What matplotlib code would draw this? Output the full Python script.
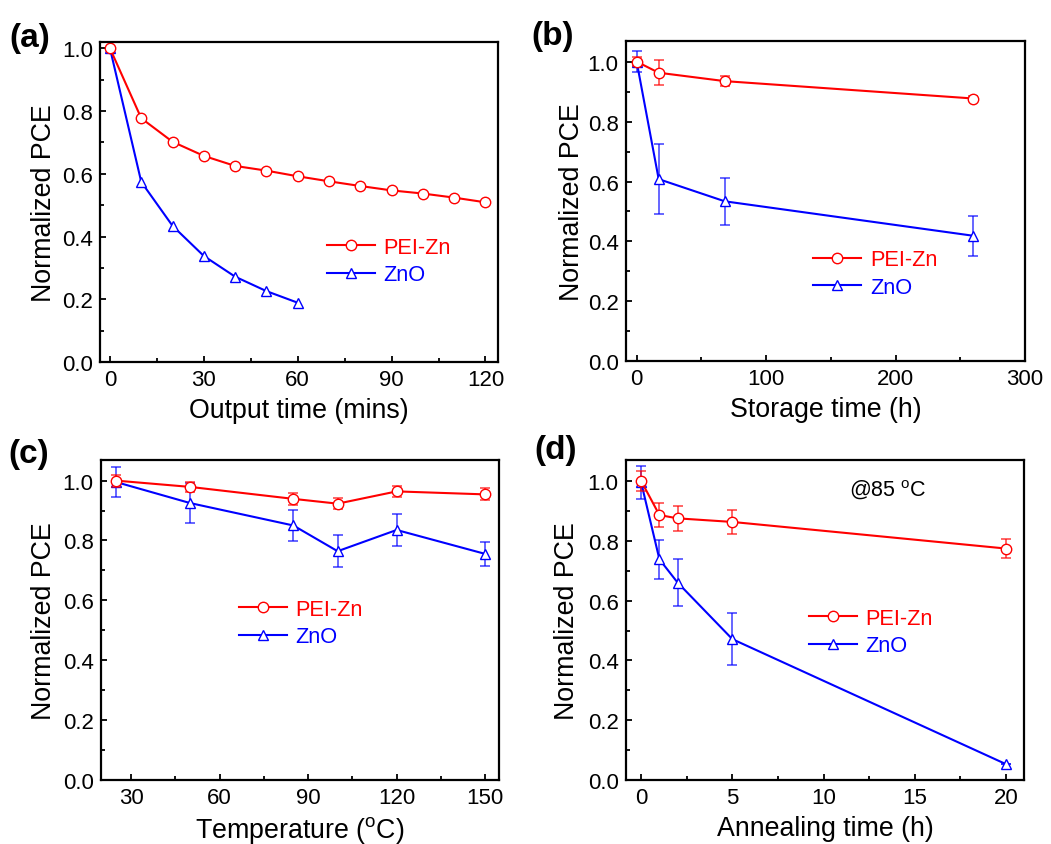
import matplotlib.pyplot as plt
import numpy as np
from matplotlib.ticker import MultipleLocator

plt.rcParams['font.family'] = ['Liberation Sans', 'DejaVu Sans']
plt.rcParams['mathtext.default'] = 'regular'

# (a) output time
t_out = [0, 10, 20, 30, 40, 50, 60, 70, 80, 90, 100, 110, 120]
pei_out = [1.0, 0.777, 0.702, 0.657, 0.625, 0.610, 0.592, 0.576, 0.561, 0.547, 0.537, 0.524, 0.509]
t_out_zno = [0, 10, 20, 30, 40, 50, 60]
zno_out = [1.0, 0.574, 0.434, 0.338, 0.272, 0.226, 0.189]

# (b) storage time
t_sto = [0, 17, 68, 260]
pei_sto = [1.0, 0.963, 0.935, 0.877]
pei_sto_err = [0.015, 0.042, 0.017, 0.008]
zno_sto = [1.0, 0.608, 0.534, 0.419]
zno_sto_err = [0.035, 0.117, 0.078, 0.067]

# (c) temperature
temp = [25, 50, 85, 100, 120, 150]
pei_temp = [1.0, 0.979, 0.939, 0.923, 0.964, 0.954]
pei_temp_err = [0.02, 0.018, 0.02, 0.018, 0.019, 0.02]
zno_temp = [0.995, 0.925, 0.850, 0.764, 0.835, 0.755]
zno_temp_err = [0.05, 0.068, 0.051, 0.053, 0.053, 0.04]

# (d) annealing time
t_ann = [0, 1, 2, 5, 20]
pei_ann = [1.0, 0.886, 0.875, 0.863, 0.774]
pei_ann_err = [0.032, 0.041, 0.042, 0.041, 0.031]
zno_ann = [0.995, 0.738, 0.660, 0.471, 0.053]
zno_ann_err = [0.055, 0.065, 0.079, 0.086, 0.0]

RED = '#FF0000'
BLUE = '#0000FF'
lw = 1.5
ms = 7.5

fig = plt.figure(figsize=(10.51, 8.45), dpi=100)
pos = {
    'a': [0.0951, 0.5704, 0.3787, 0.3787],
    'b': [0.5953, 0.5712, 0.3800, 0.3795],
    'c': [0.0958, 0.0761, 0.3793, 0.3787],
    'd': [0.5953, 0.0757, 0.3793, 0.3787],
}


def style(ax, xlim, ylim, xmaj, xmin, xlabel, lab_x):
    ax.set_xlim(*xlim)
    ax.set_ylim(*ylim)
    ax.xaxis.set_major_locator(MultipleLocator(xmaj))
    ax.xaxis.set_minor_locator(MultipleLocator(xmin))
    ax.yaxis.set_major_locator(MultipleLocator(0.2))
    ax.yaxis.set_minor_locator(MultipleLocator(0.1))
    ax.yaxis.set_major_formatter(plt.FormatStrFormatter('%.1f'))
    ax.tick_params(which='both', direction='in', labelsize=16, width=1.3, pad=5)
    ax.tick_params(which='major', length=4.5)
    ax.tick_params(which='minor', length=3)
    for s in ax.spines.values():
        s.set_linewidth(1.6)
    ax.set_xlabel(xlabel, fontsize=19.3)
    ax.set_ylabel('Normalized PCE', fontsize=19.3)
    ax.xaxis.set_label_coords(0.5, -0.108)
    ax.yaxis.set_label_coords(lab_x, 0.5)


def add_legend(ax, xy):
    h, l = ax.get_legend_handles_labels()
    ax.legend(h[::-1], l[::-1], loc='center left', bbox_to_anchor=xy,
              frameon=False, fontsize=15.7, handlelength=2.2, handletextpad=0.4,
              labelspacing=0.3, borderpad=0, borderaxespad=0,
              labelcolor='linecolor')


def series(ax, x, y, err, color, marker, label):
    if err is not None:
        ax.errorbar(x, y, yerr=err, fmt='none', ecolor=color, alpha=0.7,
                    elinewidth=1.2, capsize=3.5, capthick=1.2)
    ax.plot(x, y, color=color, marker=marker, ms=ms, mfc='white',
            mec=color, lw=lw, label=label)


# (a)
ax = fig.add_axes(pos['a'])
series(ax, t_out_zno, zno_out, None, BLUE, '^', 'ZnO')
series(ax, t_out, pei_out, None, RED, 'o', 'PEI-Zn')
style(ax, (-3.2, 124), (0, 1.02), 30, 15, 'Output time (mins)', -0.108)
add_legend(ax, (0.57, 0.316))

# (b)
ax = fig.add_axes(pos['b'])
series(ax, t_sto, zno_sto, zno_sto_err, BLUE, '^', 'ZnO')
series(ax, t_sto, pei_sto, pei_sto_err, RED, 'o', 'PEI-Zn')
style(ax, (-8.5, 300), (0, 1.07), 100, 50, 'Storage time (h)', -0.102)
add_legend(ax, (0.47, 0.274))

# (c)
ax = fig.add_axes(pos['c'])
series(ax, temp, zno_temp, zno_temp_err, BLUE, '^', 'ZnO')
series(ax, temp, pei_temp, pei_temp_err, RED, 'o', 'PEI-Zn')
style(ax, (19.7, 154.8), (0, 1.07), 30, 15, 'Temperature ($^{o}$C)', -0.11)
add_legend(ax, (0.346, 0.49))

# (d)
ax = fig.add_axes(pos['d'])
series(ax, t_ann, zno_ann, zno_ann_err, BLUE, '^', 'ZnO')
series(ax, t_ann, pei_ann, pei_ann_err, RED, 'o', 'PEI-Zn')
style(ax, (-0.85, 21), (0, 1.07), 5, 2.5, 'Annealing time (h)', -0.115)
add_legend(ax, (0.46, 0.462))
ax.text(0.56, 0.91, '@85 $^{o}$C', transform=ax.transAxes, fontsize=15.5,
        ha='left', va='center')

# panel letters
for letter, x, y in [('(a)', 9, 38), ('(b)', 531, 36), ('(c)', 8, 455), ('(d)', 534, 451)]:
    fig.text(x / 1051, 1 - y / 845, letter, fontsize=24, fontweight='bold',
             ha='left', va='center')

fig.savefig('out.png', dpi=100)
